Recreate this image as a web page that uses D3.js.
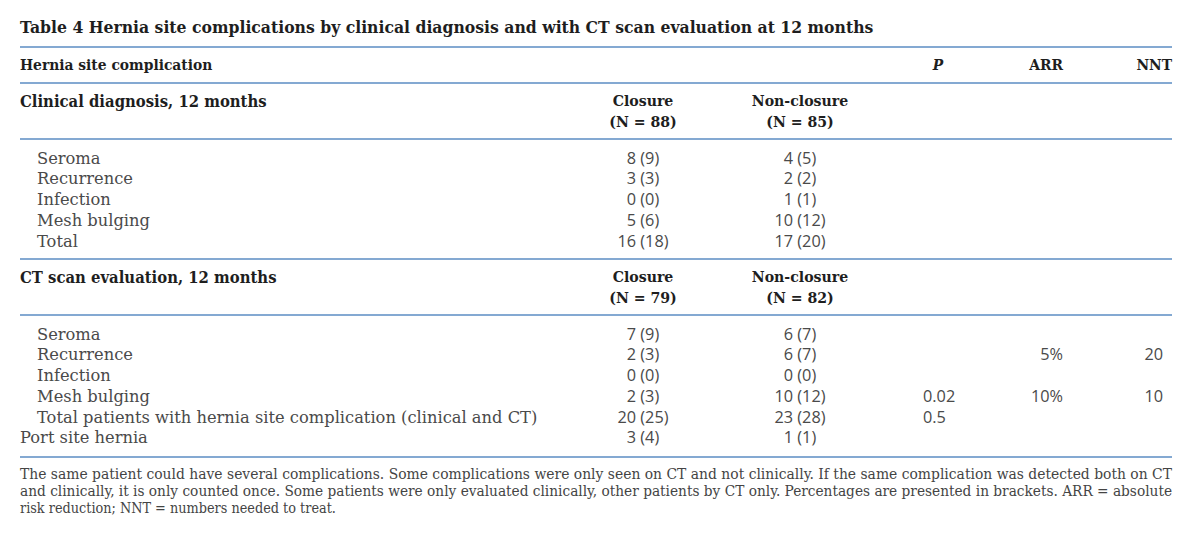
<!DOCTYPE html>
<meta charset="utf-8">
<style>
html, body {
  margin: 0;
  background: #fff;
}

.table {
  display: block;
}

.table .rule {
  stroke: #84a9d2;
  stroke-width: 2;
}

.table .title,
.table .head,
.table .section {
  font-family: "DejaVu Serif Condensed", "DejaVu Serif", serif;
  font-stretch: condensed;
  font-weight: bold;
  fill: #1e1e1e;
}

.table .label {
  font-family: "DejaVu Serif", serif;
  fill: #4a4a4a;
}

.table .num {
  font-family: "Open Sans", "Liberation Sans", sans-serif;
  fill: #4a4a4a;
}

.table .note {
  font-family: "DejaVu Serif Condensed", "DejaVu Serif", serif;
  font-stretch: condensed;
  fill: #444;
}
</style>
<body>
<svg class="table js-table"></svg>

<script src="https://d3js.org/d3.v7.min.js"></script>
<script>
"use strict";

var title = "Table 4 Hernia site complications by clinical diagnosis and with CT scan evaluation at 12 months";
var headLabels = ["Hernia site complication", "P", "ARR", "NNT"];
var groupLabels = ["Closure", "Non-closure"];

var clinicalTitle = "Clinical diagnosis, 12 months";
var clinicalN = ["(N = 88)", "(N = 85)"];
var clinicalRows = ["Seroma", "Recurrence", "Infection", "Mesh bulging", "Total"];
var clinicalClosure = ["8 (9)", "3 (3)", "0 (0)", "5 (6)", "16 (18)"];
var clinicalNonClosure = ["4 (5)", "2 (2)", "1 (1)", "10 (12)", "17 (20)"];

var ctTitle = "CT scan evaluation, 12 months";
var ctN = ["(N = 79)", "(N = 82)"];
var ctRows = ["Seroma", "Recurrence", "Infection", "Mesh bulging",
  "Total patients with hernia site complication (clinical and CT)", "Port site hernia"];
var ctIndent = [true, true, true, true, true, false];
var ctClosure = ["7 (9)", "2 (3)", "0 (0)", "2 (3)", "20 (25)", "3 (4)"];
var ctNonClosure = ["6 (7)", "6 (7)", "0 (0)", "10 (12)", "23 (28)", "1 (1)"];
var ctP = ["", "", "", "0.02", "0.5", ""];
var ctARR = ["", "5%", "", "10%", "", ""];
var ctNNT = ["", "20", "", "10", "", ""];

var footnote = [
  "The same patient could have several complications. Some complications were only seen on CT and not clinically. If the same complication was detected both on CT",
  "and clinically, it is only counted once. Some patients were only evaluated clinically, other patients by CT only. Percentages are presented in brackets. ARR = absolute",
  "risk reduction; NNT = numbers needed to treat."
];

var width = 1200, height = 537;
var left = 20, right = 1172;
var rowH = 20.7;

// column anchors
var col = {
  label: left,
  indent: 37,
  closure: 643,
  nonClosure: 800,
  pHead: 938,
  p: 923,
  arr: 1063,
  nntHead: 1172,
  nnt: 1163
};

var svg = d3.select(".js-table")
  .attr("width", width)
  .attr("height", height);

function rule(y) {
  svg.append("line")
    .attr("class", "rule")
    .attr("x1", left).attr("x2", right)
    .attr("y1", y).attr("y2", y);
}

function text(cls, x, y, str, anchor, size) {
  return svg.append("text")
    .attr("class", cls)
    .attr("x", x)
    .attr("y", y)
    .attr("dy", "0.35em")
    .attr("text-anchor", anchor || "start")
    .style("font-size", (size || 16) + "px")
    .text(str);
}

// title
text("title", left, 27, title, "start", 17.4);
rule(47);

// column header
text("head", left, 65, headLabels[0], "start", 15.4);
text("head", col.pHead, 65, headLabels[1], "middle", 15.4).style("font-style", "italic");
text("head", col.arr, 65, headLabels[2], "end", 15.4);
text("head", col.nntHead, 65, headLabels[3], "end", 15.4);
rule(83);

function section(top, label, nLabels, rows, indent, closure, nonClosure, p, arr, nnt) {
  text("section", left, top + 18, label, "start", 16.5);
  groupLabels.forEach(function (g, i) {
    var x = i === 0 ? col.closure : col.nonClosure;
    text("section", x, top + 18, g, "middle", 15.7);
    text("section", x, top + 39, nLabels[i], "middle", 15.7);
  });
  rule(top + 56);

  var y = d3.scaleLinear()
    .domain([0, rows.length - 1])
    .range([top + 75, top + 75 + rowH * (rows.length - 1)]);

  rows.forEach(function (r, i) {
    text("label", indent[i] ? col.indent : col.label, y(i), r, "start", 16.3);
    text("num", col.closure, y(i), closure[i], "middle", 16.3);
    text("num", col.nonClosure, y(i), nonClosure[i], "middle", 16.3);
    if (p[i]) text("num", col.p, y(i), p[i], "start", 16.3);
    if (arr[i]) text("num", col.arr, y(i), arr[i], "end", 16.3);
    if (nnt[i]) text("num", col.nnt, y(i), nnt[i], "end", 16.3);
  });
}

var none = clinicalRows.map(function () { return ""; });
section(83, clinicalTitle, clinicalN, clinicalRows, clinicalRows.map(function () { return true; }),
  clinicalClosure, clinicalNonClosure, none, none, none);
rule(259);
section(259, ctTitle, ctN, ctRows, ctIndent, ctClosure, ctNonClosure, ctP, ctARR, ctNNT);
rule(457);

// footnote
footnote.forEach(function (line, i) {
  var t = text("note", left, 474 + i * 17, line, "start", 14.3);
  if (i < footnote.length - 1) {
    t.attr("textLength", right - left).attr("lengthAdjust", "spacingAndGlyphs");
  }
});
</script>
</body>
